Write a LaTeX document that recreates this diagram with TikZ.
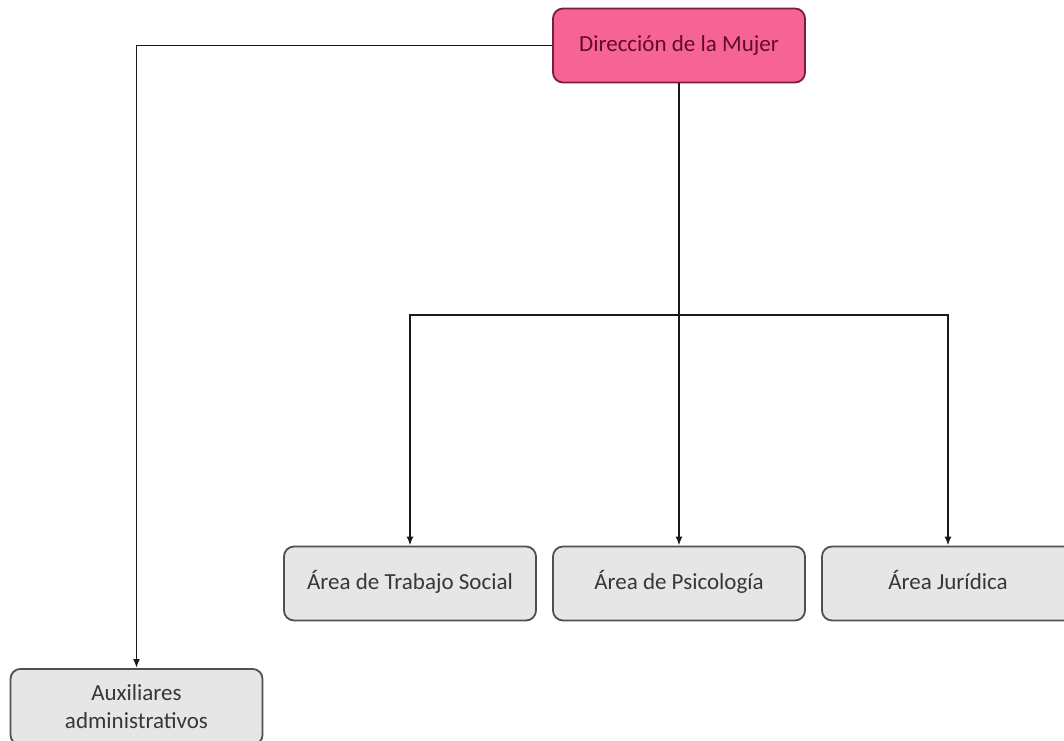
\documentclass[tikz,border=0pt]{standalone}
\usepackage{fontspec}
\setmainfont{Carlito}
\usetikzlibrary{arrows.meta}
\definecolor{pinkfill}{RGB}{246,100,150}
\definecolor{pinkdraw}{RGB}{120,30,60}
\definecolor{pinktext}{RGB}{100,10,45}
\definecolor{grayfill}{RGB}{230,230,230}
\definecolor{graydraw}{RGB}{80,80,80}
\definecolor{graytext}{RGB}{55,55,55}
\tikzset{
  box/.style={draw=graydraw, fill=grayfill, line width=1.8pt, rounded corners=10pt,
    minimum width=252pt, minimum height=74pt, inner sep=0pt, text=graytext,
    font=\fontsize{23}{28}\selectfont, align=center},
  onel/.style={text height=15pt, text depth=4pt},
  topbox/.style={box, onel, draw=pinkdraw, fill=pinkfill, text=pinktext},
  conn/.style={line width=1.8pt, black!90},
  arr/.style={conn, -{Latex[length=9pt,width=7pt]}}
}
\begin{document}
\begin{tikzpicture}[x=1pt,y=-1pt]
\useasboundingbox (0,0) rectangle (1064,740);
\clip (0,0) rectangle (1064,740);
\fill[white] (0,0) rectangle (1064,740);
\node[topbox] (top) at (679,45.5) {Dirección de la Mujer};
\node[box, onel] (tra) at (410,583.5) {Área de Trabajo Social};
\node[box, onel] (psi) at (679,583.5) {Área de Psicología};
\node[box, onel] (jur) at (948,583.5) {Área Jurídica};
\node[box, anchor=north, minimum height=76pt] (aux) at (136.5,668) {Auxiliares\\administrativos};
\coordinate (bus) at (679,315);
\draw[arr] (top.west) -| (aux.north);
\draw[arr] (top.south) -- (psi.north);
\draw[arr] (bus) -| (tra.north);
\draw[arr] (bus) -| (jur.north);
\end{tikzpicture}
\end{document}
